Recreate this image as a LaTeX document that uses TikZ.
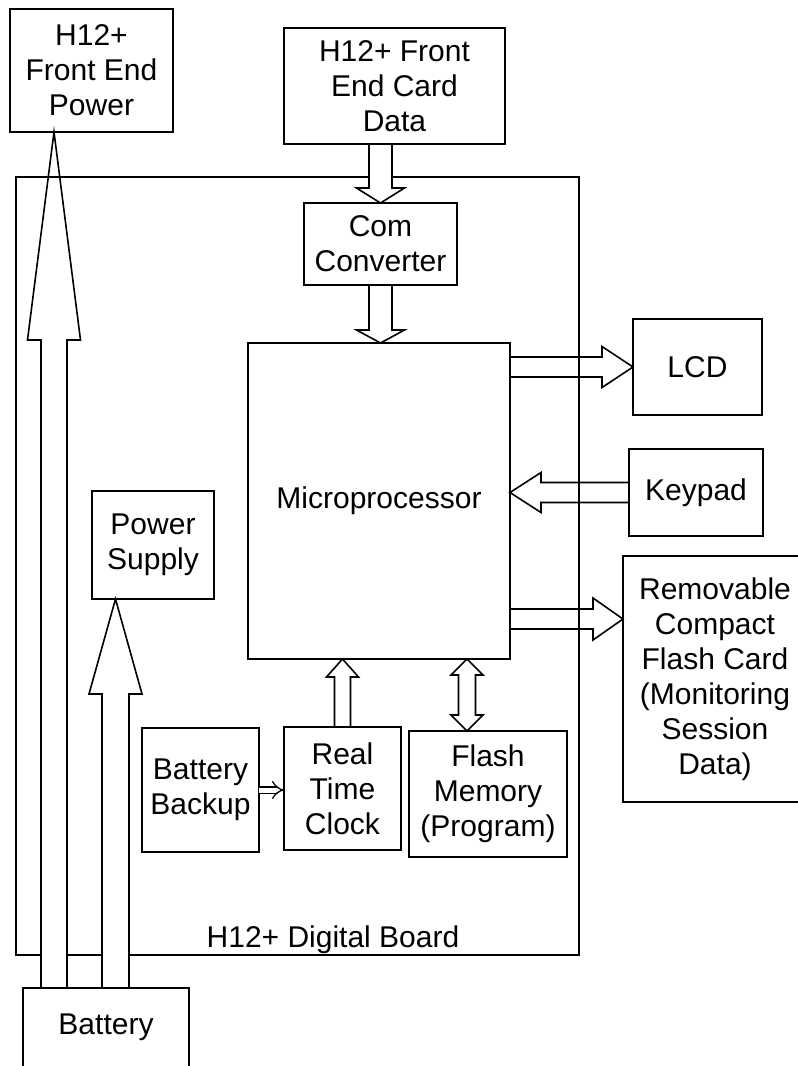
\documentclass[tikz,border=0pt]{standalone}
\usepackage{fontspec}
\setmainfont{Liberation Sans}
\usepackage{tikz}
\usetikzlibrary{positioning, arrows.meta, calc}

\newcommand{\blkfont}{\fontsize{30}{35}\selectfont}

% hollow block arrow: [opts]{shaft half}{head half}{head length}{from}{to}
\newcommand{\blockarrow}[6][]{%
  \path let \p1=($(#6)-(#5)$) in \pgfextra{%
    \pgfmathsetmacro\bwlen{veclen(\x1,\y1)}%
    \pgfmathsetmacro\bwang{atan2(\y1,\x1)}%
    \xdef\barlen{\bwlen}\xdef\barang{\bwang}};
  \draw[barrow,#1,shift={(#5)},rotate=\barang]
    (0,-#2) -- (\barlen-#4,-#2) -- (\barlen-#4,-#3) -- (\barlen,0)
    -- (\barlen-#4,#3) -- (\barlen-#4,#2) -- (0,#2) -- cycle;
}
% same, with a head at both ends
\newcommand{\dblockarrow}[6][]{%
  \path let \p1=($(#6)-(#5)$) in \pgfextra{%
    \pgfmathsetmacro\bwlen{veclen(\x1,\y1)}%
    \pgfmathsetmacro\bwang{atan2(\y1,\x1)}%
    \xdef\barlen{\bwlen}\xdef\barang{\bwang}};
  \draw[barrow,#1,shift={(#5)},rotate=\barang]
    (0,0) -- (#4,-#3) -- (#4,-#2) -- (\barlen-#4,-#2) -- (\barlen-#4,-#3)
    -- (\barlen,0) -- (\barlen-#4,#3) -- (\barlen-#4,#2) -- (#4,#2)
    -- (#4,#3) -- cycle;
}

\begin{document}
\begin{tikzpicture}[
  x=1pt, y=-1pt,
  blk/.style={draw, line width=1.6pt, align=center, font=\blkfont, inner sep=0pt, outer sep=0pt},
  lbl/.style={font=\blkfont, inner sep=0pt},
  barrow/.style={draw, line width=1.6pt, line join=miter},
  wire/.style={line width=1.6pt},
  dbl/.style={double, double distance=5pt, line width=1.3pt, -{Implies[length=5pt]}}
]
  \useasboundingbox (0,0) rectangle (798,1066);
  \clip (0,0) rectangle (798,1066);

  % digital board
  \node[blk, minimum width=563, minimum height=778] (board) at (297.5,566) {};
  \node[lbl, above=1pt of board.south, xshift=35.5] (boardlbl) {H12+ Digital Board};

  % blocks
  \node[blk, minimum width=163, minimum height=123] (fep) at (91.5,70.5) {H12+\\Front End\\Power};
  \node[blk, minimum width=221, minimum height=116] (fecd) at (394.5,86) {H12+ Front\\End Card\\Data};
  \node[blk, minimum width=153, minimum height=82] (com) at (380.5,244) {Com\\Converter};
  \node[blk, minimum width=262, minimum height=316] (micro) at (379,501) {Microprocessor};
  \node[blk, minimum width=129, minimum height=96] (lcd) at (697.5,367) {LCD};
  \node[blk, minimum width=134, minimum height=87] (keypad) at (696,492.5) {Keypad};
  \node[blk, minimum width=184, minimum height=246] (rcf) at (715,679)
    {Removable\\Compact\\Flash Card\\(Monitoring\\Session\\Data)};
  \node[blk, minimum width=122, minimum height=108] (ps) at (153,545) {Power\\Supply};
  \node[blk, minimum width=117, minimum height=124] (bb) at (200.5,790) {Battery\\Backup};
  \node[blk, minimum width=117, minimum height=123] (rtc) at (342.5,788.5) {Real\\Time\\Clock};
  \node[blk, minimum width=158, minimum height=126] (flash) at (488,794) {Flash\\Memory\\(Program)};
  \node[blk, minimum width=166, minimum height=102, text depth=30pt] (battery) at (106,1039) {Battery};

  % arrow ends
  \coordinate (cdin) at (fecd.south -| com.north);
  \coordinate (mpin) at (com.south |- micro.north);
  \coordinate (lcdin) at (micro.east |- lcd.west);
  \coordinate (kpin) at (micro.east |- keypad.west);
  \coordinate (rcfout) at ($(micro.south east)+(0,-40)$);
  \coordinate (rcfin) at (rcfout -| rcf.west);
  \coordinate (rtcout) at (rtc.north |- micro.south);
  \coordinate (flin) at ($(flash.north)+(-21,0)$);
  \coordinate (flout) at (flin |- micro.south);
  \coordinate (psin) at ($(battery.north west)+(92.5,0)$);
  \coordinate (psout) at (psin |- ps.south);
  \coordinate (fpin) at ($(battery.north west)+(31,0)$);
  \coordinate (fpout) at (fpin |- fep.south);

  % data arrows
  \blockarrow[fill=white]{11.5}{24}{15}{cdin}{com.north}
  \blockarrow[fill=white]{11.5}{24}{13}{com.south}{mpin}
  \blockarrow{10}{20.5}{31}{lcdin}{lcd.west}
  \blockarrow{10}{20}{31}{keypad.west}{kpin}
  \blockarrow{10}{21}{30}{rcfout}{rcfin}
  \blockarrow[fill=white]{8}{16}{18}{rtc.north}{rtcout}
  \dblockarrow[fill=white]{8.5}{16}{16}{flin}{flout}
  \draw[dbl] (bb.east) -- (bb.east -| rtc.west);

  % power arrows
  \blockarrow[fill=white]{13.5}{26.5}{95}{psin}{psout}
  \blockarrow[fill=white]{13}{26.5}{208}{fpin}{fpout}
  \draw[wire] (board.north west) -- ($(board.north west)+(90,0)$);
\end{tikzpicture}
\end{document}
